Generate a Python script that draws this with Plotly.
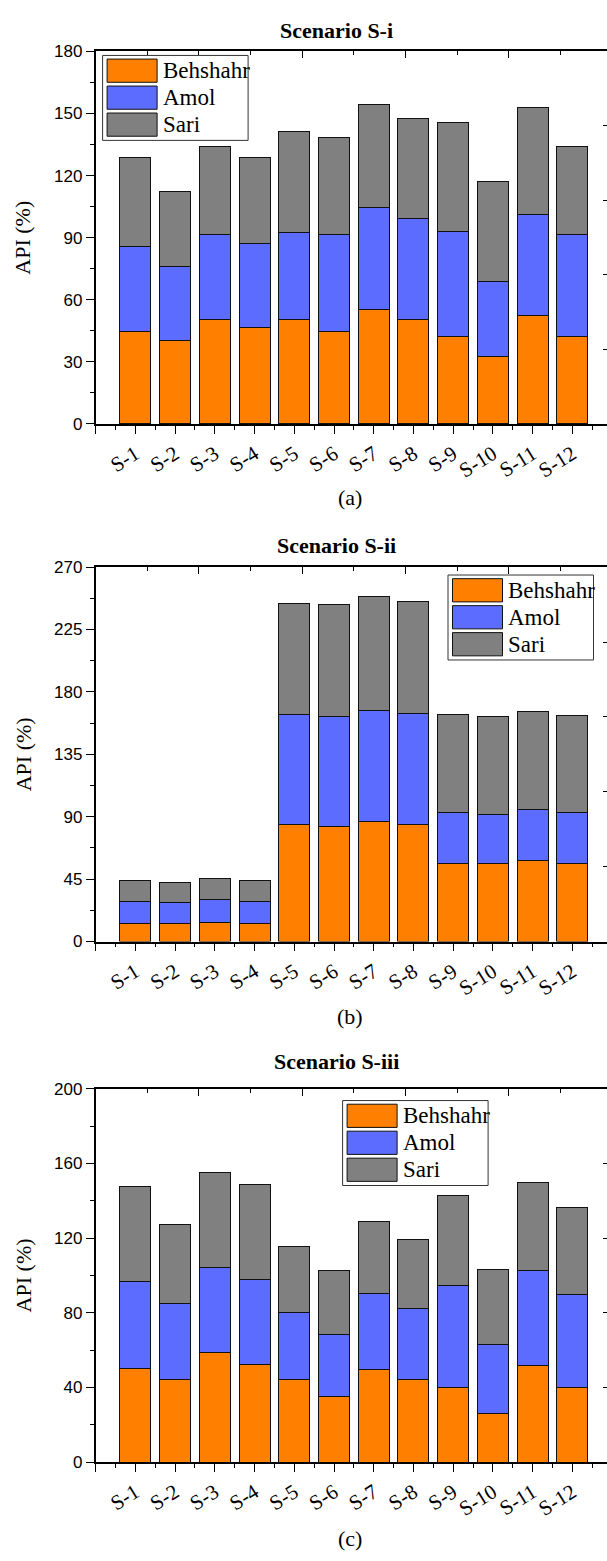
import plotly.graph_objects as go

# ---------------- data ----------------
categories = ["S-1", "S-2", "S-3", "S-4", "S-5", "S-6",
              "S-7", "S-8", "S-9", "S-10", "S-11", "S-12"]
series_names = ["Behshahr", "Amol", "Sari"]

# Scenario S-i
behshahr_a = [44.6, 40.3, 50.6, 46.5, 50.6, 44.6, 55.4, 50.6, 42.2, 32.4, 52.4, 42.2]
amol_a = [41.0, 35.7, 40.7, 40.5, 42.1, 46.7, 49.4, 48.6, 51.0, 36.2, 49.0, 49.1]
sari_a = [43.0, 36.4, 42.7, 41.9, 48.4, 47.3, 49.8, 48.4, 52.4, 48.5, 51.6, 43.0]

# Scenario S-ii
behshahr_b = [13.1, 12.8, 14.0, 12.8, 84.5, 82.9, 86.2, 84.5, 56.3, 56.3, 58.7, 56.3]
amol_b = [15.6, 15.5, 16.4, 15.9, 79.1, 79.3, 80.5, 80.1, 36.8, 35.6, 36.5, 36.8]
sari_b = [15.2, 14.0, 15.2, 15.2, 80.3, 80.5, 82.2, 80.5, 70.8, 70.5, 71.0, 69.8]

# Scenario S-iii
behshahr_c = [50.1, 44.3, 58.6, 52.4, 44.3, 35.1, 49.4, 44.3, 40.2, 25.9, 51.5, 39.9]
amol_c = [46.4, 40.4, 45.5, 45.6, 35.8, 33.2, 40.7, 38.2, 54.2, 36.9, 51.0, 49.7]
sari_c = [50.9, 42.3, 51.1, 50.7, 35.6, 34.3, 38.6, 36.5, 48.5, 40.2, 47.1, 46.7]

# ---------------- style ----------------
colors = ["#FF8000", "#5C6CFF", "#808080"]
SERIF = "Times New Roman, Liberation Serif, serif"
SANS = "Arial, Liberation Sans, sans-serif"
W, H = 607, 1561


def PX(x):
    return x / W


def PY(y):
    return 1 - y / H


panels = [
    dict(title="Scenario S-i", label="(a)", data=[behshahr_a, amol_a, sari_a],
         ymax=180, dtick=30, top=43, bottom=420, title_y=22, label_y=495,
         legend=(102.6, 47)),
    dict(title="Scenario S-ii", label="(b)", data=[behshahr_b, amol_b, sari_b],
         ymax=270, dtick=45, top=565, bottom=944, title_y=543, label_y=1020,
         legend=(448, 573)),
    dict(title="Scenario S-iii", label="(c)", data=[behshahr_c, amol_c, sari_c],
         ymax=200, dtick=40, top=1093, bottom=1471, title_y=1065, label_y=1548,
         legend=(342.6, 1105)),
]

LEFT = 95.6
n = len(categories)
positions = list(range(1, n + 1))

fig = go.Figure()
layout = dict(
    width=W, height=H, margin=dict(l=0, r=0, t=0, b=0),
    paper_bgcolor="white", plot_bgcolor="white",
    barmode="stack", bargap=0.22, showlegend=False, hovermode=False,
)
annotations = []
shapes = []

for i, p in enumerate(panels):
    k = i + 1
    xa = "x" if k == 1 else f"x{k}"
    ya = "y" if k == 1 else f"y{k}"
    xo, yo = f"x{k + 3}", f"y{k + 3}"
    for name, vals, col in zip(series_names, p["data"], colors):
        fig.add_trace(go.Bar(
            x=positions, y=vals, name=name,
            marker=dict(color=col, line=dict(color="#111111", width=1)),
            xaxis=xa, yaxis=ya, showlegend=False,
        ))
    # helper traces so the mirror axes are drawn
    fig.add_trace(go.Scatter(x=[], y=[], xaxis=xo, yaxis=ya, showlegend=False, hoverinfo="skip"))
    fig.add_trace(go.Scatter(x=[], y=[], xaxis=xa, yaxis=yo, showlegend=False, hoverinfo="skip"))

    ydom = [PY(p["bottom"]), PY(p["top"])]
    xdom = [PX(LEFT), 1.0]
    xname = "xaxis" if k == 1 else f"xaxis{k}"
    yname = "yaxis" if k == 1 else f"yaxis{k}"
    layout[xname] = dict(
        domain=xdom, anchor=ya, range=[0, 12.87],
        tickmode="array", tickvals=list(range(0, n + 2)),
        ticktext=[""] + categories + [""], tickangle=-32,
        ticks="outside", ticklen=8, tickwidth=1.3, tickcolor="black",
        showline=True, linecolor="black", linewidth=1.5, mirror=True,
        showgrid=False, zeroline=False,
        tickfont=dict(family=SERIF, size=21, color="black"),
        minor=dict(tickmode="linear", tick0=0.5, dtick=1, ticks="outside",
                   ticklen=4, tickwidth=1.3, tickcolor="black", showgrid=False),
    )
    layout[yname] = dict(
        domain=ydom, anchor=xa, range=[0, p["ymax"]],
        tickmode="linear", tick0=0, dtick=p["dtick"],
        ticks="outside", ticklen=8, tickwidth=1.3, tickcolor="black",
        showline=True, linecolor="black", linewidth=1.5,
        showgrid=False, zeroline=False,
        tickfont=dict(family=SANS, size=17, color="black"),
        minor=dict(tickmode="linear", tick0=p["dtick"] / 2, dtick=p["dtick"],
                   ticks="outside", ticklen=4, tickwidth=1.3, tickcolor="black",
                   showgrid=False),
    )
    layout[f"xaxis{k + 3}"] = dict(
        overlaying=xa, anchor=ya, side="top", domain=xdom, range=[0, 99.03],
        tickmode="array", tickvals=[20, 40, 60, 80], ticks="inside", ticklen=7,
        tickwidth=1.3, tickcolor="black", showticklabels=False,
        showline=False, showgrid=False, zeroline=False,
        minor=dict(tickvals=[10, 30, 50, 70, 90], ticks="inside", ticklen=4,
                   tickwidth=1.3, tickcolor="black", showgrid=False),
    )
    layout[f"yaxis{k + 3}"] = dict(
        overlaying=ya, anchor=xa, side="right", domain=ydom, range=[0, 100],
        tickmode="array", tickvals=[20, 40, 60, 80], ticks="inside", ticklen=4,
        tickwidth=1.3, tickcolor="black", showticklabels=False,
        showline=False, showgrid=False, zeroline=False,
    )

    # titles & labels
    annotations.append(dict(text="<b>" + p["title"] + "</b>", x=PX(337), y=PY(p["title_y"]),
                            xref="paper", yref="paper", showarrow=False,
                            font=dict(family=SERIF, size=22, color="black"),
                            xanchor="center", yanchor="middle"))
    annotations.append(dict(text=p["label"], x=PX(350), y=PY(p["label_y"]),
                            xref="paper", yref="paper", showarrow=False,
                            font=dict(family=SERIF, size=22, color="black"),
                            xanchor="center", yanchor="middle"))
    annotations.append(dict(text="API (%)", x=PX(23), y=PY((p["top"] + p["bottom"]) / 2),
                            xref="paper", yref="paper", showarrow=False, textangle=-90,
                            font=dict(family=SERIF, size=22, color="black"),
                            xanchor="center", yanchor="middle"))

    # legend drawn as boxes + text
    lx, ly = p["legend"]
    shapes.append(dict(type="rect", xref="paper", yref="paper",
                       x0=PX(lx), x1=PX(lx + 145.5), y0=PY(ly), y1=PY(ly + 86),
                       line=dict(color="#333333", width=1), fillcolor="white", layer="above"))
    for j, (name, col) in enumerate(zip(series_names, colors)):
        top = ly + 3.7 + 27.3 * j
        shapes.append(dict(type="rect", xref="paper", yref="paper",
                           x0=PX(lx + 4.5), x1=PX(lx + 54.5), y0=PY(top), y1=PY(top + 23.5),
                           line=dict(color="#111111", width=1), fillcolor=col, layer="above"))
        annotations.append(dict(text=name, x=PX(lx + 58), y=PY(top + 11.75),
                                xref="paper", yref="paper", showarrow=False,
                                font=dict(family=SERIF, size=23, color="black"),
                                xanchor="left", yanchor="middle"))

layout["annotations"] = annotations
layout["shapes"] = shapes
fig.update_layout(**layout)
fig.write_html("out.html")
